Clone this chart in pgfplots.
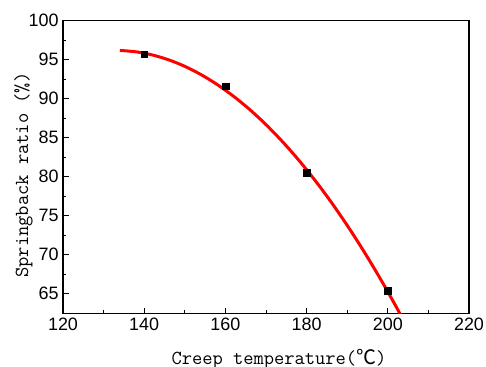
\documentclass[border=0pt]{standalone}
\usepackage{fontspec}
\setmainfont{Liberation Sans}
\newfontfamily\cjk{Noto Sans CJK SC}
\usepackage{pgfplots}
\pgfplotsset{compat=1.18}
\begin{document}
\begin{tikzpicture}
\useasboundingbox (-63bp,-53.3bp) rectangle (423bp,313.7bp);
\begin{axis}[
  at={(0,0)}, anchor=south west,
  scale only axis, width=406bp, height=293bp,
  xmin=120, xmax=220, ymin=62.45, ymax=100,
  xtick={120,140,...,220}, ytick={65,70,...,100},
  minor x tick num=1, minor y tick num=1,
  tick align=inside, xtick pos=bottom, ytick pos=left,
  major tick length=6bp, minor tick length=3.5bp,
  axis line style={line width=1.2bp},
  every tick/.style={line width=1bp, black},
  ticklabel style={font=\fontsize{18}{18}\selectfont},
  xticklabel style={yshift=-1bp},
  yticklabel style={xshift=-1bp},
  /pgf/number format/assume math mode=true,
  xlabel={Creep temperature({\cjk ℃})},
  ylabel={Springback ratio (\%)},
  xlabel style={font=\ttfamily\fontsize{20}{20}\selectfont, at={(axis description cs:0.532,-0.1717)}, anchor=base},
  ylabel style={font=\ttfamily\fontsize{20}{20}\selectfont, at={(axis description cs:-0.0862,0.473)}, anchor=base, rotate=0},
  clip=true,
]
\addplot[red, line width=3bp, smooth] coordinates {
(134,96.19) (138,96.01) (142,95.61) (146,94.99) (150,94.15) (154,93.09)
(158,91.81) (162,90.32) (166,88.61) (170,86.68) (174,84.53) (178,82.17)
(182,79.59) (186,76.79) (190,73.77) (194,70.53) (198,67.07) (202,63.40)
(204,61.45)
};
\addplot[only marks, mark=square*, mark size=3.3bp, black] coordinates {
(140,95.7) (160,91.6) (180,80.5) (200,65.4)
};
\end{axis}
\end{tikzpicture}
\end{document}
